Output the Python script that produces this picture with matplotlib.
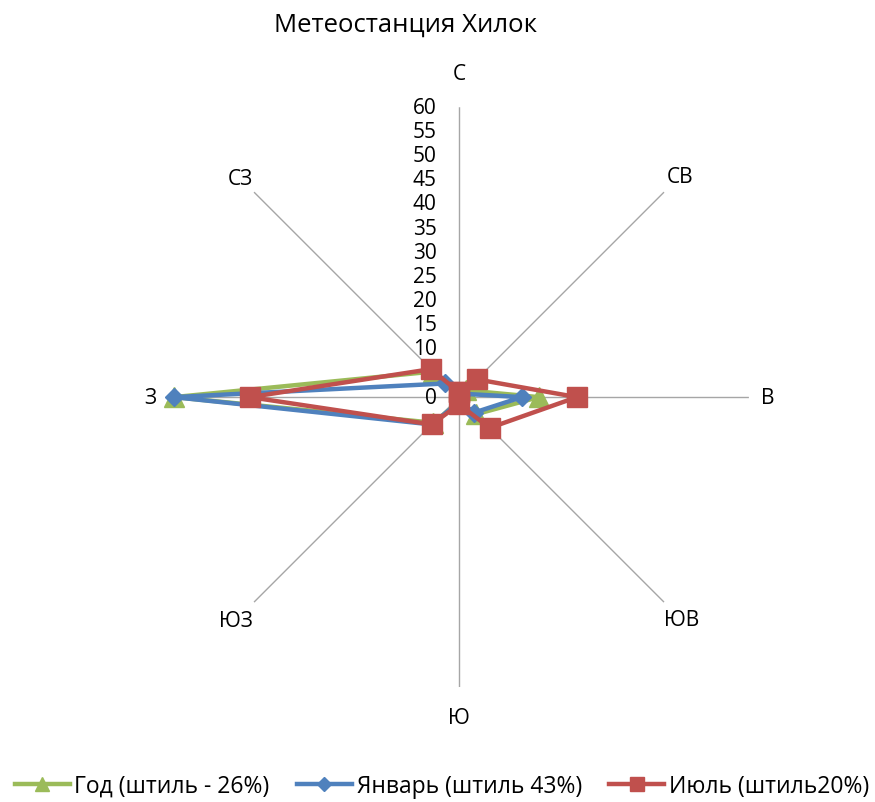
"""Wind rose for the Khilok weather station."""

import numpy as np
import matplotlib
matplotlib.use("Agg")
import matplotlib.pyplot as plt
from matplotlib.lines import Line2D

plt.rcParams["font.family"] = ["Open Sans", "DejaVu Sans"]

directions = ["С", "СВ", "В", "ЮВ", "Ю", "ЮЗ", "З", "СЗ"]
year = [1, 2, 16.5, 5, 1, 7.5, 59, 7.5]
january = [1, 1, 13, 4.5, 1, 8, 59, 4]
july = [1, 5.2, 24.4, 9, 1.5, 8, 43.3, 8.2]
r_ticks = list(range(0, 61, 5))

series = [
    ("Год (штиль - 26%)", year, "#9BBB59", "^", 14),
    ("Январь (штиль 43%)", january, "#4F81BD", "D", 9),
    ("Июль (штиль20%)", july, "#C0504D", "s", 14),
]

# how far out each direction label sits (in data units)
label_r = [67, 64.6, 64, 65.2, 66.3, 65.3, 63.8, 64]

fig = plt.figure(figsize=(8.75, 8.03), dpi=100)
ax = fig.add_axes([0.1931, 0.1432, 0.663, 0.722], projection="polar")
ax.set_theta_zero_location("N")
ax.set_theta_direction(-1)
ax.set_ylim(0, 60)
ax.grid(False)
ax.spines["polar"].set_visible(False)
ax.set_xticks([])
ax.set_yticks([])
ax.patch.set_alpha(0)

angles = np.deg2rad(np.arange(len(directions)) * 45)

# spokes
for a in angles:
    ax.plot([a, a], [0, 60], color="#a6a6a6", lw=1.0, zorder=1)

# direction labels
for a, name, lr in zip(angles, directions, label_r):
    ax.text(a, lr, name, ha="center", va="center", fontsize=15)

# radial tick labels along the north spoke
for v in r_ticks:
    ax.annotate(str(v), xy=(0, v), xytext=(-16, 0), textcoords="offset points",
                ha="right", va="center", fontsize=15)

handles = []
for label, vals, color, marker, ms in series:
    a = np.append(angles, angles[0])
    r = np.append(vals, vals[0])
    ax.plot(a, r, color=color, lw=3.2, marker=marker, markersize=ms,
            zorder=3, clip_on=False)
    handles.append(Line2D([], [], color=color, lw=3.2, marker=marker,
                          markersize=ms * 0.75, label=label))

fig.text(0.463, 0.969, "Метеостанция Хилок", ha="center", va="center",
         fontsize=18.5)

fig.legend(handles=handles, loc="center", bbox_to_anchor=(0.505, 0.02),
           ncol=3, frameon=False, fontsize=16.5, handlelength=2.4,
           columnspacing=1.2, handletextpad=0.2, borderpad=0, borderaxespad=0)

plt.savefig("out.png", dpi=100)
plt.close()
